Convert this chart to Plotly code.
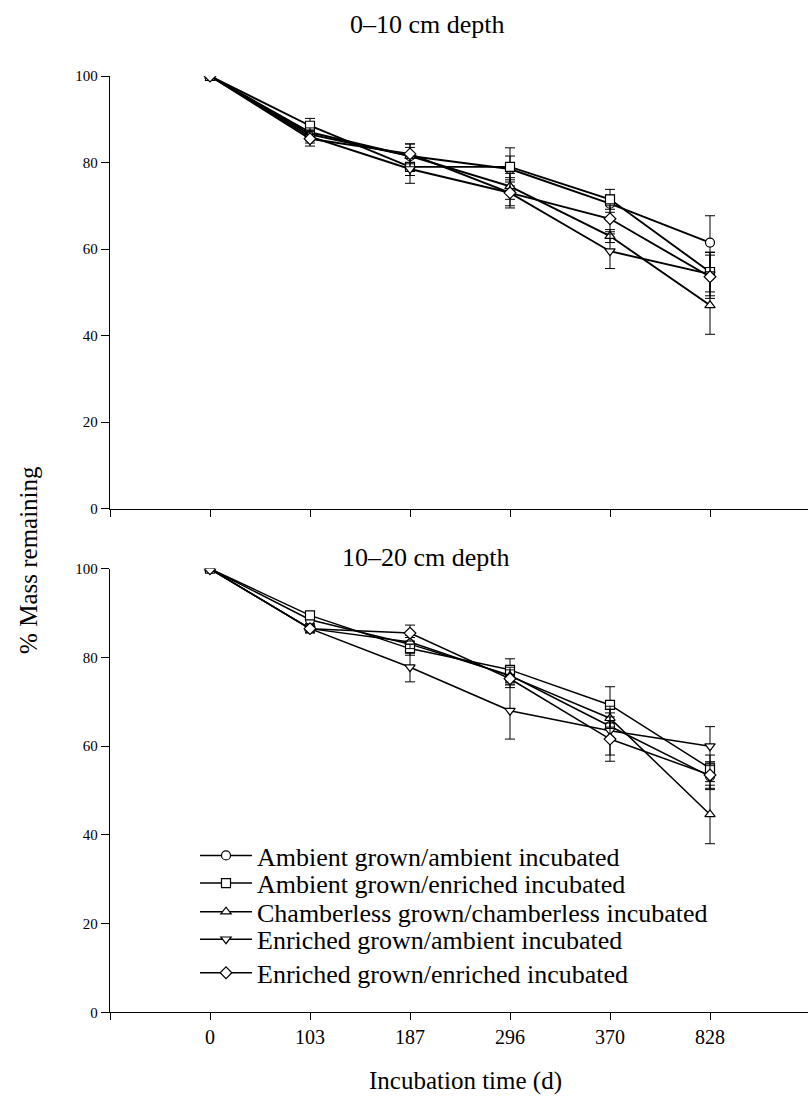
import plotly.graph_objects as go

days = ["0", "103", "187", "296", "370", "828"]
series_names = [
    "Ambient grown/ambient incubated",
    "Ambient grown/enriched incubated",
    "Chamberless grown/chamberless incubated",
    "Enriched grown/ambient incubated",
    "Enriched grown/enriched incubated",
]
symbols = ["circle", "square", "triangle-up", "triangle-down", "diamond"]

# 0-10 cm depth
top_aa = [100, 87.0, 81.5, 78.5, 70.5, 61.5]
top_ae = [100, 88.5, 79.0, 79.0, 71.5, 54.7]
top_cc = [100, 86.5, 81.5, 74.5, 63.0, 47.0]
top_ea = [100, 86.0, 78.5, 73.0, 59.5, 54.2]
top_ee = [100, 85.5, 82.0, 73.0, 67.0, 53.6]
top_aa_err = [0, 1.5, 2.0, 3.0, 2.0, 6.2]
top_ae_err = [0, 1.7, 2.0, 4.4, 2.3, 4.6]
top_cc_err = [0, 1.5, 2.8, 3.0, 1.5, 6.7]
top_ea_err = [0, 1.5, 3.3, 3.0, 4.0, 5.0]
top_ee_err = [0, 1.7, 2.3, 3.5, 3.0, 5.0]

# 10-20 cm depth
bot_aa = [100, 88.5, 83.0, 76.0, 64.5, 53.2]
bot_ae = [100, 89.5, 82.0, 77.2, 69.3, 55.0]
bot_cc = [100, 86.5, 83.5, 75.8, 66.3, 44.6]
bot_ea = [100, 86.5, 77.8, 68.0, 63.5, 60.0]
bot_ee = [100, 86.5, 85.5, 75.2, 61.6, 53.5]
bot_aa_err = [0, 0.8, 1.5, 2.0, 3.0, 3.0]
bot_ae_err = [0, 0.8, 1.5, 2.5, 4.1, 3.0]
bot_cc_err = [0, 0.8, 1.5, 2.0, 2.0, 6.6]
bot_ea_err = [0, 1.0, 3.3, 6.4, 5.5, 4.4]
bot_ee_err = [0, 0.8, 1.8, 2.0, 5.0, 3.0]

top_vals = [top_aa, top_ae, top_cc, top_ea, top_ee]
top_errs = [top_aa_err, top_ae_err, top_cc_err, top_ea_err, top_ee_err]
bot_vals = [bot_aa, bot_ae, bot_cc, bot_ea, bot_ee]
bot_errs = [bot_aa_err, bot_ae_err, bot_cc_err, bot_ea_err, bot_ee_err]

FONT = "Liberation Serif"
W, H = 808, 1106
xpos = list(range(len(days)))
legend_ids = ["legend", "legend2", "legend3", "legend4", "legend5"]
legend_rows = [860, 888, 917, 945, 979]

fig = go.Figure()


def add_panel(vals, errs, xa, ya, show, lw):
    for i, (name, sym, v, e) in enumerate(zip(series_names, symbols, vals, errs)):
        fig.add_trace(go.Scatter(
            x=xpos, y=v, name=name, mode="lines+markers",
            xaxis=xa, yaxis=ya, showlegend=show, legend=legend_ids[i],
            line=dict(color="black", width=lw),
            marker=dict(symbol=sym, size=9, color="white",
                        line=dict(color="black", width=1.2)),
            error_y=dict(type="data", array=e, visible=True,
                         color="black", thickness=1, width=5),
        ))


add_panel(top_vals, top_errs, "x", "y", False, 1.9)
add_panel(bot_vals, bot_errs, "x2", "y2", True, 1.5)


def px_x(p):
    return p / W


def px_y(p):
    return 1 - p / H


xdom = [px_x(110), 1.0]
xr = [-1, 5.98]
tickvals = [-1] + xpos
axis_common = dict(showline=True, linecolor="black", linewidth=1.3,
                   ticks="outside", tickcolor="black", tickwidth=1,
                   showgrid=False, zeroline=False)

layout = dict(
    width=W, height=H,
    margin=dict(l=0, r=0, t=0, b=0),
    paper_bgcolor="white", plot_bgcolor="white",
    font=dict(family=FONT, color="black"),
    xaxis=dict(domain=xdom, range=xr, tickvals=tickvals, showticklabels=False,
               ticklen=7, anchor="y", **axis_common),
    yaxis=dict(domain=[px_y(508), px_y(69)], range=[0, 100],
               tickvals=[0, 20, 40, 60, 80, 100], ticklen=8, anchor="x",
               tickfont=dict(size=15, family=FONT), **axis_common),
    xaxis2=dict(domain=xdom, range=xr, tickvals=tickvals,
                ticktext=[""] + days, ticklen=7, anchor="y2",
                tickfont=dict(size=20, family=FONT), **axis_common),
    yaxis2=dict(domain=[px_y(1019), px_y(569)], range=[0, 100],
                tickvals=[0, 20, 40, 60, 80, 100], ticklen=8, anchor="x2",
                tickfont=dict(size=15, family=FONT), **axis_common),
    showlegend=True,
)
for lid, row in zip(legend_ids, legend_rows):
    layout[lid] = dict(x=px_x(195), y=px_y(row), xanchor="left", yanchor="middle",
                       font=dict(size=26, family=FONT), bgcolor="rgba(0,0,0,0)",
                       itemwidth=52, borderwidth=0)
fig.update_layout(**layout)

fig.add_annotation(text="0–10 cm depth", x=px_x(348), y=px_y(17),
                   xref="paper", yref="paper", xanchor="left", yanchor="middle",
                   showarrow=False, font=dict(size=26, family=FONT))
fig.add_annotation(text="10–20 cm depth", x=px_x(340), y=px_y(558),
                   xref="paper", yref="paper", xanchor="left", yanchor="middle",
                   showarrow=False, font=dict(size=26, family=FONT))
fig.add_annotation(text="% Mass remaining", x=px_x(29), y=px_y(560),
                   xref="paper", yref="paper", xanchor="center", yanchor="middle",
                   textangle=-90, showarrow=False, font=dict(size=25, family=FONT))
fig.add_annotation(text="Incubation time (d)", x=px_x(466), y=px_y(1089),
                   xref="paper", yref="paper", xanchor="center", yanchor="middle",
                   showarrow=False, font=dict(size=25, family=FONT))

fig.write_html("out.html", config={"displayModeBar": False},
               post_script="document.body.style.margin='0px';document.body.style.overflow='hidden';")
